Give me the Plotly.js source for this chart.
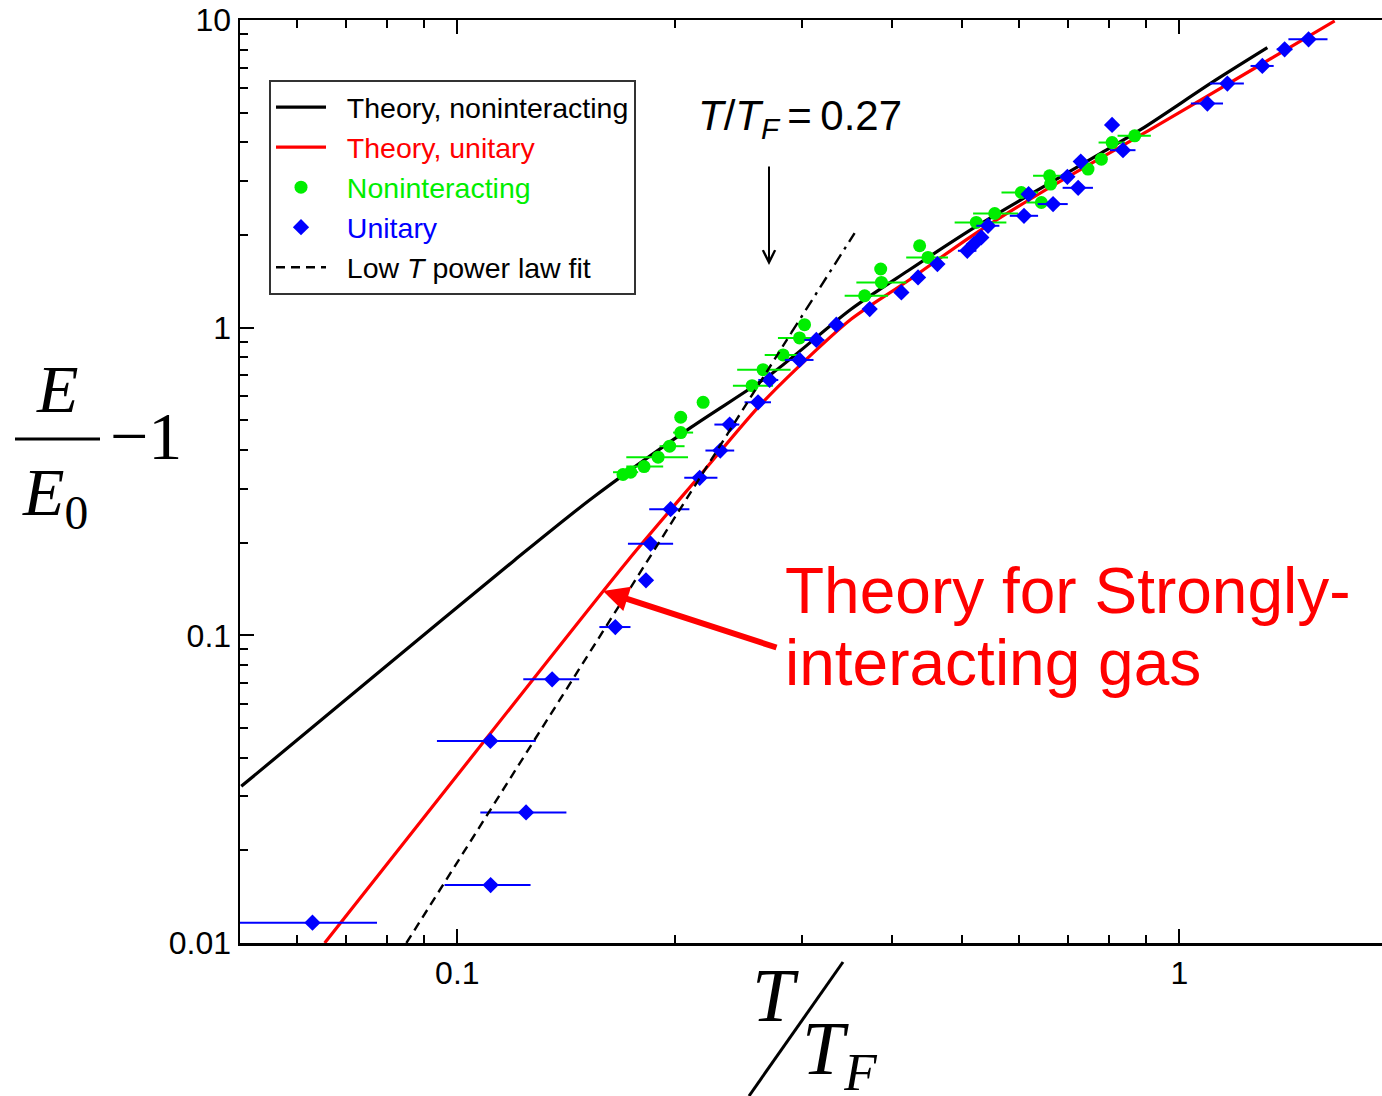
<!DOCTYPE html>
<html>
<head>
<meta charset="utf-8">
<script src="https://cdn.plot.ly/plotly-3.0.1.min.js"></script>
<style>html,body{margin:0;padding:0;background:#fff;}</style>
</head>
<body>
<div id="chart" style="width:1382px;height:1096px;"></div>
<script>
// Theory, noninteracting: T/T_F and E/E0 - 1
const theoryFreeT = [0.0502, 0.0776, 0.1199, 0.1533, 0.2109, 0.2722, 0.3513, 0.4209, 0.5205, 0.6172, 0.7800, 0.8860, 1.118, 1.324];
const theoryFreeE = [0.0323, 0.0754, 0.1752, 0.2779, 0.4750, 0.7073, 1.150, 1.531, 2.117, 2.684, 3.700, 4.417, 6.338, 8.130];

// Theory, unitary
const theoryUnitT = [0.0655, 0.1062, 0.1723, 0.2178, 0.2609, 0.2963, 0.3513, 0.4209, 0.5205, 0.6440, 0.9050, 1.299, 1.641];
const theoryUnitE = [0.0100, 0.0420, 0.1752, 0.3350, 0.5510, 0.7433, 1.067, 1.421, 2.015, 2.750, 4.362, 7.181, 9.930];

// Low-T power law fit (fitted range, then extrapolation)
const fitT = [0.085, 0.290];
const fitE = [0.010, 0.961];
const fitExtT = [0.290, 0.355];
const fitExtE = [0.961, 2.030];

// Noninteracting gas measurements
const freeT = [0.1696, 0.1738, 0.1814, 0.1897, 0.1968, 0.2039, 0.2039, 0.2190, 0.2560, 0.2651, 0.2826, 0.2978, 0.3026,
               0.3665, 0.3867, 0.3858, 0.4368, 0.4486, 0.5233, 0.5550, 0.6041, 0.6440, 0.6612, 0.6633, 0.7473, 0.7798, 0.8069, 0.8672];
const freeE = [0.3332, 0.3390, 0.3537, 0.3793, 0.4118, 0.4561, 0.5114, 0.5721, 0.6480, 0.7305, 0.8155, 0.9260, 1.023,
               1.270, 1.403, 1.551, 1.846, 1.691, 2.198, 2.350, 2.750, 2.552, 3.116, 2.928, 3.276, 3.529, 3.997, 4.202];
const freeErrMinus = [0, 0.0095, 0.0100, 0.0183, 0.0062, 0.0049, 0, 0, 0.0152, 0.0210, 0.0161, 0.0198, 0,
                      0.0226, 0.0297, 0, 0, 0.0301, 0.0349, 0.0370, 0.0370, 0.0300, 0.0340, 0, 0, 0, 0.0340, 0.0460];
const freeErrPlus  = [0, 0.0042, 0.0114, 0.0190, 0.0096, 0.0082, 0, 0, 0.0177, 0.0243, 0.0169, 0.0182, 0,
                      0.0284, 0.0318, 0, 0, 0.0296, 0.0527, 0.0430, 0.0330, 0.0350, 0.0470, 0, 0, 0, 0.0340, 0.0460];

// Unitary gas measurements
const unitT = [0.0630, 0.1112, 0.1245, 0.1111, 0.1353, 0.1655, 0.1825, 0.1852, 0.1974, 0.2166, 0.2313, 0.2383, 0.2609,
               0.2707, 0.2978, 0.3142, 0.3349, 0.3725, 0.4121, 0.4346, 0.4623, 0.5085, 0.5194, 0.5318, 0.5433, 0.6093,
               0.6183, 0.6685, 0.6997, 0.7242, 0.7302, 0.8069, 0.8355, 1.0935, 1.1655, 1.303, 1.399, 1.510];
const unitE = [0.01164, 0.01543, 0.02657, 0.04537, 0.07195, 0.1064, 0.1509, 0.1985, 0.2571, 0.3251, 0.3987, 0.4843, 0.5721,
               0.6762, 0.7854, 0.9122, 1.023, 1.149, 1.302, 1.457, 1.610, 1.778, 1.869, 1.964, 2.144, 2.310,
               2.716, 2.522, 3.093, 2.848, 3.467, 4.561, 3.775, 5.350, 6.212, 7.090, 8.033, 8.656];
const unitErrMinus = [0.0150, 0.0152, 0.0169, 0.0174, 0.0119, 0.0082, 0.0040, 0.0129, 0.0130, 0.0104, 0.0107, 0.0113, 0.0110,
                      0.0096, 0.0136, 0.0118, 0.0050, 0.0080, 0, 0, 0, 0.0150, 0, 0, 0.0200, 0.0270,
                      0, 0.0320, 0, 0.0350, 0, 0, 0.0340, 0.0560, 0.0630, 0.0480, 0.0350, 0.0940];
const unitErrPlus  = [0.0144, 0.0151, 0.0171, 0.0173, 0.0122, 0.0082, 0.0040, 0.0138, 0.0122, 0.0126, 0.0105, 0.0075, 0.0110,
                      0.0076, 0.0136, 0.0081, 0.0050, 0.0080, 0, 0, 0, 0.0150, 0, 0, 0.0200, 0.0280,
                      0, 0.0320, 0, 0.0350, 0, 0, 0.0340, 0.0560, 0.0630, 0.0480, 0.0350, 0.0940];

// Figure geometry (pixels)
const W = 1382, H = 1096, ML = 240, MR = 0, MT = 20, MB = 153;
const PW = W - ML - MR, PH = H - MT - MB;
const px = x => (x - ML) / PW;
const py = y => (H - MB - y) / PH;

const BLUE = '#0000ff', GREEN = '#00ee00', RED = '#ff0000';
const SANS = 'Liberation Sans, Arial, sans-serif';
const SERIF = 'Liberation Serif, Times New Roman, serif';
const IND = '\u00a0\u00a0';   // gap between legend symbol and label

const traces = [
  {
    x: theoryFreeT, y: theoryFreeE, mode: 'lines',
    line: {color: '#000', width: 3.2, shape: 'spline', smoothing: 0.8},
    name: IND + 'Theory, noninteracting'
  },
  {
    x: theoryUnitT, y: theoryUnitE, mode: 'lines',
    line: {color: RED, width: 3.2, shape: 'spline', smoothing: 0.8},
    name: IND + '<span style="color:#ff0000">Theory, unitary</span>'
  },
  {
    x: freeT, y: freeE, mode: 'markers',
    marker: {symbol: 'circle', size: 13, color: GREEN},
    error_x: {type: 'data', symmetric: false, array: freeErrPlus, arrayminus: freeErrMinus,
              color: GREEN, thickness: 2, width: 0},
    name: IND + '<span style="color:#00ee00">Noninteracting</span>'
  },
  {
    x: unitT, y: unitE, mode: 'markers',
    marker: {symbol: 'diamond', size: 12.5, color: BLUE},
    error_x: {type: 'data', symmetric: false, array: unitErrPlus, arrayminus: unitErrMinus,
              color: BLUE, thickness: 2, width: 0},
    name: IND + '<span style="color:#0000ff">Unitary</span>'
  },
  {
    x: fitT, y: fitE, mode: 'lines',
    line: {color: '#000', width: 2.4, dash: '9px,6px'},
    name: IND + 'Low <i>T</i> power law fit'
  },
  {
    x: fitExtT, y: fitExtE, mode: 'lines',
    line: {color: '#000', width: 2.4, dash: '12px,6px,3px,6px'},
    showlegend: false
  }
];

const axisCommon = {
  type: 'log',
  showline: true, linecolor: '#000', linewidth: 2.5,
  ticks: 'inside', ticklen: 14, tickwidth: 2, tickcolor: '#000',
  tickmode: 'linear', tick0: 0, dtick: 1,
  minor: {ticks: 'inside', ticklen: 8, tickwidth: 2, tickcolor: '#000', dtick: 'D1', showgrid: false},
  showgrid: false, zeroline: false,
  tickfont: {family: SANS, size: 32, color: '#000'}
};

const layout = {
  width: W, height: H,
  margin: {l: ML, r: MR, t: MT, b: MB, pad: 0},
  paper_bgcolor: '#fff', plot_bgcolor: '#fff',
  showlegend: true,
  legend: {
    x: px(269), y: py(80), xanchor: 'left', yanchor: 'top',
    bgcolor: '#fff', bordercolor: '#333', borderwidth: 2,
    font: {family: SANS, size: 28.5, color: '#000'},
    itemwidth: 50, tracegroupgap: 0
  },
  xaxis: Object.assign({}, axisCommon, {range: [Math.log10(0.05), Math.log10(0.05) + PW / 722], mirror: 'ticks'}),
  yaxis: Object.assign({}, axisCommon, {range: [-2, 1], mirror: false}),
  shapes: [
    // fraction bar of E/E0
    {type: 'line', xref: 'paper', yref: 'paper', x0: px(15), x1: px(100), y0: py(439), y1: py(439),
     line: {color: '#000', width: 3}},
    // slash of T/T_F
    {type: 'line', xref: 'paper', yref: 'paper', x0: px(749), x1: px(843), y0: py(1096), y1: py(962),
     line: {color: '#000', width: 3}}
  ],
  annotations: [
    {xref: 'paper', yref: 'paper', x: px(696), y: py(118), xanchor: 'left', yanchor: 'middle', showarrow: false,
     text: '<i>T</i>/<i>T</i><sub><i>F</i></sub>\u2009=\u20090.27', font: {family: SANS, size: 42, color: '#000'}},
    {xref: 'paper', yref: 'paper', x: px(769), y: py(265), ax: 0, ay: -100, text: '',
     showarrow: true, arrowhead: 5, arrowwidth: 2, arrowsize: 1.2, arrowcolor: '#000'},
    {xref: 'paper', yref: 'paper', x: px(603), y: py(591), ax: 175, ay: 57, text: '',
     showarrow: true, arrowhead: 2, arrowwidth: 6, arrowsize: 0.85, arrowcolor: RED},
    {xref: 'paper', yref: 'paper', x: px(783), y: py(591), xanchor: 'left', yanchor: 'middle', showarrow: false,
     text: 'Theory for Strongly-', font: {family: SANS, size: 64, color: RED}},
    {xref: 'paper', yref: 'paper', x: px(783), y: py(663), xanchor: 'left', yanchor: 'middle', showarrow: false,
     text: 'interacting gas', font: {family: SANS, size: 64, color: RED}},
    // y-axis label: E/E0 - 1
    {xref: 'paper', yref: 'paper', x: px(57), y: py(389), xanchor: 'center', yanchor: 'middle', showarrow: false,
     text: '<i>E</i>', font: {family: SERIF, size: 68, color: '#000'}},
    {xref: 'paper', yref: 'paper', x: px(20), y: py(497), xanchor: 'left', yanchor: 'middle', showarrow: false,
     text: '<i>E</i><sub>0</sub>', font: {family: SERIF, size: 68, color: '#000'}},
    {xref: 'paper', yref: 'paper', x: px(108), y: py(436), xanchor: 'left', yanchor: 'middle', showarrow: false,
     text: '\u22121', font: {family: SERIF, size: 68, color: '#000'}},
    // x-axis label: T/T_F
    {xref: 'paper', yref: 'paper', x: px(775), y: py(995), xanchor: 'center', yanchor: 'middle', showarrow: false,
     text: '<i>T</i>', font: {family: SERIF, size: 76, color: '#000'}},
    {xref: 'paper', yref: 'paper', x: px(800), y: py(1054), xanchor: 'left', yanchor: 'middle', showarrow: false,
     text: '<i>T</i><sub><i>F</i></sub>', font: {family: SERIF, size: 76, color: '#000'}}
  ]
};

Plotly.newPlot('chart', traces, layout, {displayModeBar: false, staticPlot: true});
</script>
</body>
</html>
